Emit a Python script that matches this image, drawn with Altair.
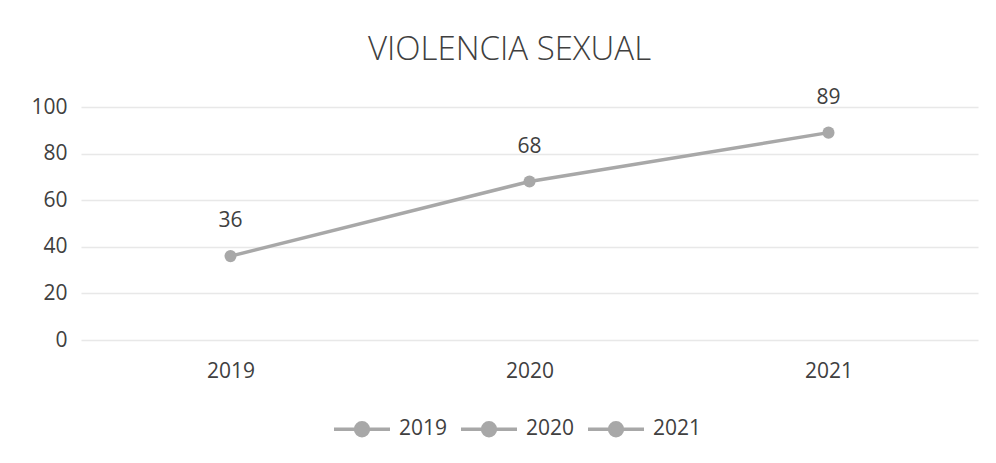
import altair as alt
import pandas as pd

years = ["2019", "2020", "2021"]
values = [36, 68, 89]
y_ticks = [0, 20, 40, 60, 80, 100]

df = pd.DataFrame({"year": years, "value": values})

GRAY = "#a8a8a8"
TEXT = "#404040"
FONT = "Open Sans"

x = alt.X("year:N", sort=years, title=None,
          axis=alt.Axis(domain=False, ticks=False, grid=False, labelAngle=0,
                        labelFont=FONT, labelFontSize=21, labelColor=TEXT,
                        labelPadding=20))
y = alt.Y("value:Q", title=None,
          scale=alt.Scale(domain=[0, 100], nice=False),
          axis=alt.Axis(values=y_ticks, domain=False, ticks=False,
                        gridColor="#e8e8e8", gridWidth=1.5,
                        labelFont=FONT, labelFontSize=21, labelColor=TEXT,
                        labelPadding=14))

base = alt.Chart(df)

line = base.mark_line(color=GRAY, strokeWidth=3.5).encode(x=x, y=y)

legend_path = ("M-1,0L-0.23,0 M0.23,0L1,0 "
               "M-0.23,0 A0.23,0.23 0 1,1 0.23,0 A0.23,0.23 0 1,1 -0.23,0 Z")

points = base.mark_point(filled=True, size=145, opacity=1).encode(
    x=x, y=y,
    color=alt.Color("year:N", sort=years,
                    scale=alt.Scale(domain=years, range=[GRAY, GRAY, GRAY]),
                    legend=alt.Legend(title=None, orient="none",
                                      direction="horizontal",
                                      legendX=251, legendY=292,
                                      symbolType=legend_path,
                                      symbolSize=3136,
                                      symbolStrokeWidth=3.5,
                                      symbolStrokeColor=GRAY,
                                      symbolFillColor=GRAY,
                                      labelFont=FONT, labelFontSize=21,
                                      labelColor=TEXT, labelOffset=7,
                                      columnPadding=6)),
)

labels = base.mark_text(dy=-35, font=FONT, fontSize=21, color=TEXT,
                        baseline="middle").encode(
    x=x, y=y, text=alt.Text("value:Q"))

chart = alt.layer(line, points, labels).properties(
    width=897, height=233,
    title=alt.Title("VIOLENCIA SEXUAL", font=FONT, fontSize=33,
                    fontWeight=300, color=TEXT, anchor="middle",
                    dx=-20, dy=51, offset=45, baseline="alphabetic"),
    autosize=alt.AutoSizeParams(type="none"),
    padding={"left": 73, "top": 99, "right": 10, "bottom": 115},
).configure(background="white").configure_view(stroke="transparent", strokeWidth=0)

chart.save("out.html", embed_options={"renderer": "svg", "actions": False})
